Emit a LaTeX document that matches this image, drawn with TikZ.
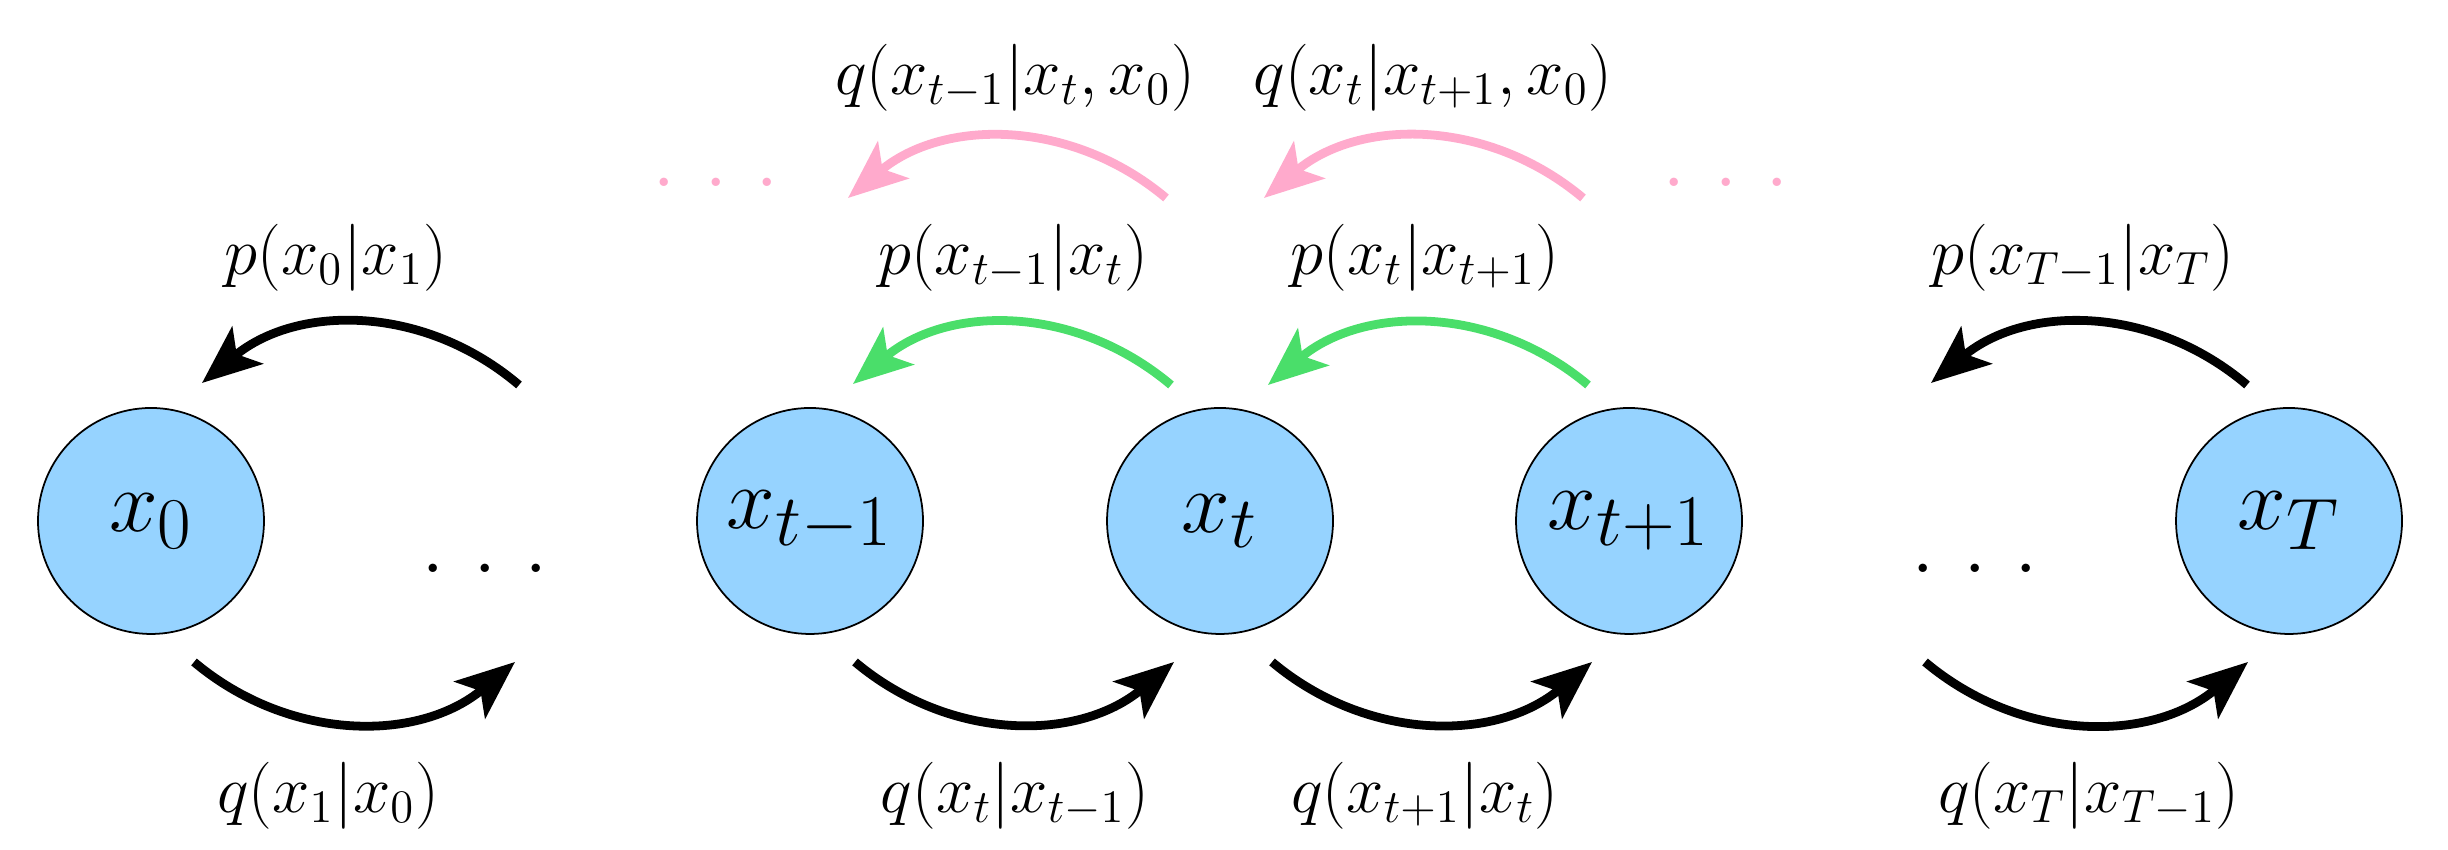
\documentclass[tikz,border=0pt]{standalone}
\usetikzlibrary{arrows.meta}
\definecolor{nodeblue}{RGB}{150,211,255}
\definecolor{arrgreen}{RGB}{74,222,106}
\definecolor{arrpink}{RGB}{255,170,204}
\tikzset{
  state/.style={circle, draw=black, line width=0.5pt, fill=nodeblue, minimum size=2.26cm, inner sep=0pt, font=\fontsize{24.88}{30}\selectfont},
  lbl/.style={inner sep=0pt, scale=1.104, transform shape, font=\fontsize{17.28}{21}\selectfont},
  dotsnode/.style={inner sep=0pt, anchor=base, font=\fontsize{29}{34}\selectfont},
  trans/.style={line width=2.5pt, -{Stealth[length=0.59cm,width=0.48cm,inset=0.14cm]}},
}
\newcommand{\mydots}{.\hspace{0.26cm}.\hspace{0.26cm}.}
\begin{document}
\begin{tikzpicture}
\useasboundingbox (0,0) rectangle (24.48,8.5);
% nodes
\node[state] (x0)  at (1.51,3.29) {$x_0$};
\node[state] (xtm) at (8.10,3.29) {$x_{t-1}$};
\node[state] (xt)  at (12.20,3.29) {$x_t$};
\node[state] (xtp) at (16.29,3.29) {$x_{t+1}$};
\node[state] (xT)  at (22.89,3.29) {$x_T$};
\node[dotsnode] (d1) at (4.85,2.775) {\mydots};
\node[dotsnode] (d2) at (19.75,2.775) {\mydots};
\node[dotsnode, text=arrpink] (pd1) at (7.16,6.635) {\mydots};
\node[dotsnode, text=arrpink] (pd2) at (17.26,6.635) {\mydots};
% arrow end points
\coordinate (a1s) at (5.19,4.65); \coordinate (a1e) at (2.02,4.67);
\coordinate (g1s) at (11.71,4.65); \coordinate (g1e) at (8.53,4.66);
\coordinate (g2s) at (15.88,4.65); \coordinate (g2e) at (12.68,4.65);
\coordinate (aTs) at (22.47,4.65); \coordinate (aTe) at (19.31,4.67);
\coordinate (k1s) at (11.66,6.52); \coordinate (k1e) at (8.48,6.52);
\coordinate (k2s) at (15.83,6.52); \coordinate (k2e) at (12.64,6.52);
\coordinate (b1s) at (1.94,1.88); \coordinate (b1e) at (5.15,1.88);
\coordinate (b2s) at (8.55,1.88); \coordinate (b2e) at (11.74,1.88);
\coordinate (b3s) at (12.72,1.88); \coordinate (b3e) at (15.92,1.88);
\coordinate (b4s) at (19.25,1.88); \coordinate (b4e) at (22.48,1.88);
% arrows
\draw[trans] (a1s) to[bend right=40] (a1e);
\draw[trans] (aTs) to[bend right=40] (aTe);
\draw[trans, arrgreen] (g1s) to[bend right=40] (g1e);
\draw[trans, arrgreen] (g2s) to[bend right=40] (g2e);
\draw[trans, arrpink] (k1s) to[bend right=40] (k1e);
\draw[trans, arrpink] (k2s) to[bend right=40] (k2e);
\draw[trans] (b1s) to[bend right=40] (b1e);
\draw[trans] (b2s) to[bend right=40] (b2e);
\draw[trans] (b3s) to[bend right=40] (b3e);
\draw[trans] (b4s) to[bend right=40] (b4e);
% labels
\node[lbl] (l1) at (3.36,5.92) {$p(x_0|x_1)$};
\node[lbl] (l2) at (3.28,0.54) {$q(x_1|x_0)$};
\node[lbl] (l3) at (10.15,7.72) {$q(x_{t-1}|x_t,x_0)$};
\node[lbl] (l4) at (14.33,7.72) {$q(x_t|x_{t+1},x_0)$};
\node[lbl] (l5) at (10.13,5.92) {$p(x_{t-1}|x_t)$};
\node[lbl] (l6) at (14.25,5.92) {$p(x_t|x_{t+1})$};
\node[lbl] (l7) at (20.83,5.92) {$p(x_{T-1}|x_T)$};
\node[lbl] (l8) at (10.15,0.54) {$q(x_t|x_{t-1})$};
\node[lbl] (l9) at (14.25,0.54) {$q(x_{t+1}|x_t)$};
\node[lbl] (l10) at (20.89,0.54) {$q(x_T|x_{T-1})$};
\end{tikzpicture}
\end{document}
